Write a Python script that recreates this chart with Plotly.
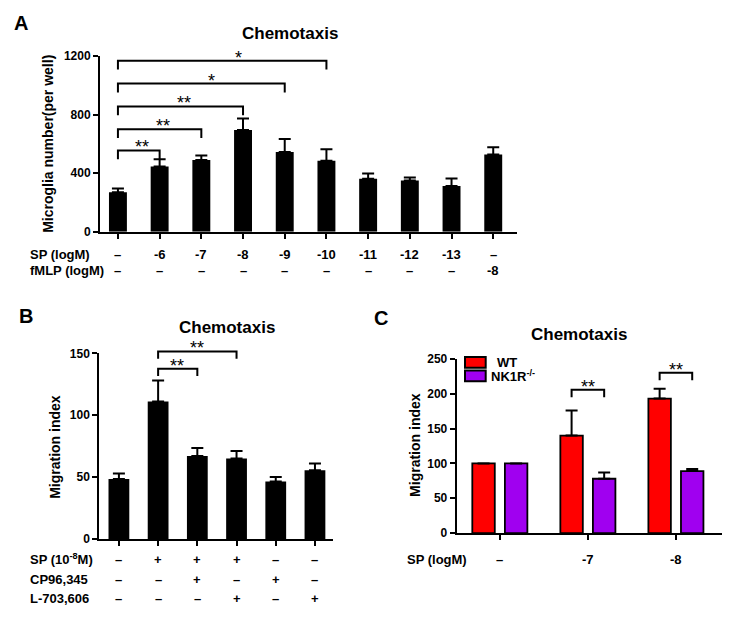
import plotly.graph_objects as go

W, H = 729, 620
FONT = "Liberation Sans, Arial, sans-serif"


def px(x):
    return x / W


def py(y):
    return 1 - y / H


# ---------------- Panel A data ----------------
a_sp = ["–", "-6", "-7", "-8", "-9", "-10", "-11", "-12", "-13", "–"]
a_fmlp = ["–", "–", "–", "–", "–", "–", "–", "–", "–", "-8"]
a_vals = [270, 445, 490, 695, 545, 485, 362, 350, 312, 528]
a_err = [25, 50, 30, 78, 88, 78, 36, 20, 52, 48]
a_br_start = [0, 0, 0, 0, 0]
a_br_end = [1, 2, 3, 4, 5]
a_br_y = [555, 700, 855, 1011, 1167]
a_br_lab = ["**", "**", "**", "*", "*"]
a_br_labx = [0.58, 1.09, 1.58, 2.25, 2.88]

# ---------------- Panel B data ----------------
b_sp = ["–", "+", "+", "+", "–", "–"]
b_cp = ["–", "–", "+", "–", "+", "–"]
b_l7 = ["–", "–", "–", "+", "–", "+"]
b_vals = [48.5, 111, 67, 65, 46.5, 55.5]
b_err = [4.5, 17, 6.5, 6, 3.5, 5.5]
b_br_start = [1, 1]
b_br_end = [2, 3]
b_br_y = [137.6, 151.5]
b_br_lab = ["**", "**"]
b_br_labx = [1.49, 1.98]

# ---------------- Panel C data ----------------
c_sp = ["–", "-7", "-8"]
c_wt = [100, 140, 193]
c_wt_err = [0, 36, 14]
c_nk = [100, 78, 89]
c_nk_err = [0, 9, 3]
c_br_group = [1, 2]
c_br_y = [205.6, 230]
c_br_lab = ["**", "**"]

# axis geometry
A_XR, A_YR = [-0.43, 9.57], [0, 1200]
B_XR, B_YR = [-0.5, 5.46], [0, 150]
C_XR, C_YR = [-0.49, 2.52], [0, 250]
C_OFF = 0.185

fig = go.Figure()

fig.add_trace(go.Bar(
    x=list(range(len(a_vals))), y=a_vals, width=0.43,
    marker=dict(color="black", line=dict(width=0)),
    error_y=dict(type="data", array=a_err, arrayminus=[0] * len(a_err),
                 symmetric=False, color="black", thickness=2, width=6),
    xaxis="x", yaxis="y", showlegend=False))

fig.add_trace(go.Bar(
    x=list(range(len(b_vals))), y=b_vals, width=0.53,
    marker=dict(color="black", line=dict(width=0)),
    error_y=dict(type="data", array=b_err, arrayminus=[0] * len(b_err),
                 symmetric=False, color="black", thickness=2, width=6),
    xaxis="x2", yaxis="y2", showlegend=False))

fig.add_trace(go.Bar(
    x=list(range(len(c_wt))), y=c_wt, name="WT",
    marker=dict(color="#ff0000", line=dict(width=1.8, color="black")),
    error_y=dict(type="data", array=c_wt_err, arrayminus=[0] * 3,
                 symmetric=False, color="black", thickness=2, width=6),
    xaxis="x3", yaxis="y3", showlegend=False))

fig.add_trace(go.Bar(
    x=list(range(len(c_nk))), y=c_nk, name="NK1R-/-",
    marker=dict(color="#a000f0", line=dict(width=1.8, color="black")),
    error_y=dict(type="data", array=c_nk_err, arrayminus=[0] * 3,
                 symmetric=False, color="black", thickness=2, width=6),
    xaxis="x3", yaxis="y3", showlegend=False))


def xaxis(domain, rng, n, anchor):
    return dict(domain=domain, range=rng, anchor=anchor, showline=True,
                linewidth=2, linecolor="black", ticks="outside", ticklen=5,
                tickwidth=2, tickcolor="black", tickvals=list(range(n)),
                showticklabels=False, showgrid=False, zeroline=False,
                fixedrange=True)


def yaxis(domain, rng, dtick, anchor):
    return dict(domain=domain, range=rng, anchor=anchor, showline=True,
                linewidth=2, linecolor="black", ticks="outside", ticklen=5,
                tickwidth=2, tickcolor="black", dtick=dtick, tick0=0,
                showgrid=False, zeroline=False,
                tickfont=dict(family=FONT, size=12, color="black", weight="bold"),
                fixedrange=True)


fig.update_layout(
    width=W, height=H, autosize=False,
    margin=dict(l=0, r=0, t=0, b=0),
    paper_bgcolor="white", plot_bgcolor="white",
    barmode="group", bargap=0.26, bargroupgap=0.31,
    xaxis=xaxis([px(100), px(517)], A_XR, len(a_vals), "y"),
    yaxis=yaxis([py(230), py(50)], A_YR, 400, "x"),
    xaxis2=xaxis([px(99.3), px(333)], B_XR, len(b_vals), "y2"),
    yaxis2=yaxis([py(544.3), py(354.3)], B_YR, 50, "x2"),
    xaxis3=xaxis([px(456.7), px(721.7)], C_XR, len(c_wt), "y3"),
    yaxis3=yaxis([py(538.3), py(360)], C_YR, 50, "x3"),
)

shapes = []
ann = []


def dom(v, rng):
    return (v - rng[0]) / (rng[1] - rng[0])


def bracket(xa, ya, x0, x1, y, leg, xr, yr):
    shapes.append(dict(
        type="path", xref=xa + " domain", yref=ya + " domain",
        path="M {0},{1} L {0},{2} L {3},{2} L {3},{1}".format(
            dom(x0, xr), dom(y - leg, yr), dom(y, yr), dom(x1, xr)),
        line=dict(color="black", width=2)))


def star(xa, ya, x, y, text, xr, yr):
    ann.append(dict(xref=xa + " domain", yref=ya + " domain",
                    x=dom(x, xr), y=dom(y, yr), text=text, showarrow=False,
                    xanchor="center", yanchor="bottom", yshift=-9,
                    font=dict(family=FONT, size=18, color="black")))


for s, e, y, lab, lx in zip(a_br_start, a_br_end, a_br_y, a_br_lab, a_br_labx):
    bracket("x", "y", s, e, y, 60, A_XR, A_YR)
    star("x", "y", lx, y, lab, A_XR, A_YR)

for s, e, y, lab, lx in zip(b_br_start, b_br_end, b_br_y, b_br_lab, b_br_labx):
    bracket("x2", "y2", s, e, y, 6, B_XR, B_YR)
    star("x2", "y2", lx, y, lab, B_XR, B_YR)

for g, y, lab in zip(c_br_group, c_br_y, c_br_lab):
    bracket("x3", "y3", g - C_OFF, g + C_OFF, y, 10.5, C_XR, C_YR)
    star("x3", "y3", g, y, lab, C_XR, C_YR)


def txt(x, y, text, size=13, xanchor="left", weight="bold", angle=0, xref="paper", xv=None):
    ann.append(dict(xref=xref, yref="paper", x=xv if xv is not None else px(x),
                    y=py(y), text=text, showarrow=False, xanchor=xanchor,
                    yanchor="middle", textangle=angle,
                    font=dict(family=FONT, size=size, color="black", weight=weight)))


# panel letters
txt(12, 16, "A", size=20)
txt(17, 316, "B", size=20)
txt(372, 318, "C", size=20)

# titles
txt(290, 27, "Chemotaxis", size=17, xanchor="center")
txt(227, 328, "Chemotaxis", size=17, xanchor="center")
txt(579, 335, "Chemotaxis", size=17, xanchor="center")

# y-axis titles
txt(48, 140, "Microglia number(per well)", size=14, xanchor="center", angle=-90)
txt(55, 450, "Migration index", size=14, xanchor="center", angle=-90)
txt(415, 448, "Migration index", size=14, xanchor="center", angle=-90)

# category rows, panel A
txt(28, 253, "SP (logM)")
txt(28, 270, "fMLP (logM)")
for i, (s, f) in enumerate(zip(a_sp, a_fmlp)):
    txt(0, 253, s, xanchor="center", xref="x", xv=i)
    txt(0, 270, f, xanchor="center", xref="x", xv=i)

# category rows, panel B
txt(28, 565, "SP (10<sup>-8</sup>M)")
txt(28, 586, "CP96,345")
txt(28, 605, "L-703,606")
for i, (s, c, l) in enumerate(zip(b_sp, b_cp, b_l7)):
    txt(0, 565, s, xanchor="center", xref="x2", xv=i)
    txt(0, 586, c, xanchor="center", xref="x2", xv=i)
    txt(0, 605, l, xanchor="center", xref="x2", xv=i)

# category row, panel C
txt(405, 565, "SP (logM)")
for i, s in enumerate(c_sp):
    txt(0, 565, s, xanchor="center", xref="x3", xv=i)

# legend, panel C
shapes.append(dict(type="rect", xref="paper", yref="paper", x0=px(465), x1=px(485.7),
                   y0=py(369), y1=py(358), fillcolor="#ff0000",
                   line=dict(color="black", width=2)))
shapes.append(dict(type="rect", xref="paper", yref="paper", x0=px(465), x1=px(485.7),
                   y0=py(383), y1=py(372), fillcolor="#a000f0",
                   line=dict(color="black", width=2)))
txt(495, 363.5, "WT", size=13)
txt(489, 377.5, "NK1R<sup>-/-</sup>", size=13)

fig.update_layout(shapes=shapes, annotations=ann)

POST = (
    "var gd=document.getElementById('{plot_id}');"
    "var de=document.documentElement;"
    "de.style.margin='0';de.style.padding='0';de.style.overflow='hidden';"
    "document.body.style.margin='0';document.body.style.padding='0';"
    "document.body.style.overflow='hidden';"
    "gd.style.position='fixed';gd.style.left='0px';gd.style.top='0px';"
)

fig.write_html("out.html",
               config={"responsive": False, "displayModeBar": False},
               post_script=POST)
